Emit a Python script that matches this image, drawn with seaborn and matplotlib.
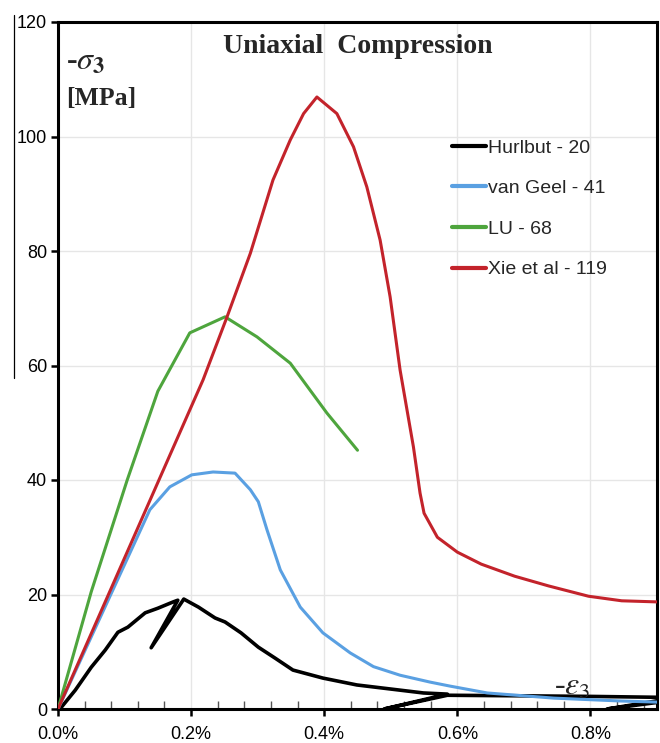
import numpy as np
import pandas as pd
import seaborn as sns
import matplotlib.pyplot as plt
from matplotlib.lines import Line2D
from matplotlib.ticker import MultipleLocator, FuncFormatter

# strain in %, stress in MPa
hurlbut_x = [0.0, 0.005, 0.026, 0.05, 0.071, 0.09, 0.105, 0.131, 0.15, 0.173, 0.18,
             0.14, 0.189, 0.211, 0.236, 0.251, 0.275, 0.301, 0.326, 0.353, 0.398,
             0.449, 0.499, 0.549, 0.585, 0.49, 0.585, 0.7, 0.8, 0.93, 0.825, 0.93]
hurlbut_y = [0.0, 0.3, 3.3, 7.3, 10.3, 13.4, 14.3, 16.8, 17.6, 18.7, 19.0,
             10.7, 19.2, 17.8, 15.9, 15.2, 13.3, 10.8, 8.9, 6.8, 5.4,
             4.2, 3.5, 2.8, 2.6, 0.0, 2.4, 2.3, 2.2, 2.0, 0.0, 1.6]

geel_x = [0.0, 0.138, 0.168, 0.201, 0.233, 0.266, 0.289, 0.301, 0.314, 0.334, 0.364,
          0.398, 0.439, 0.474, 0.514, 0.559, 0.589, 0.645, 0.745, 0.845, 0.9]
geel_y = [0.0, 34.8, 38.8, 40.9, 41.4, 41.2, 38.3, 36.2, 31.3, 24.3, 17.8,
          13.3, 9.8, 7.4, 5.9, 4.7, 4.0, 2.8, 1.9, 1.4, 1.2]

lu_x = [0.0, 0.05, 0.104, 0.15, 0.198, 0.251, 0.299, 0.349, 0.404, 0.45]
lu_y = [0.0, 20.5, 40.0, 55.5, 65.7, 68.5, 65.0, 60.4, 51.7, 45.2]

xie_x = [0.0, 0.218, 0.254, 0.289, 0.323, 0.349, 0.369, 0.389, 0.419, 0.444, 0.464,
         0.484, 0.499, 0.514, 0.534, 0.544, 0.550, 0.570, 0.600, 0.636, 0.686,
         0.737, 0.797, 0.847, 0.902]
xie_y = [0.0, 57.5, 68.5, 79.6, 92.4, 99.4, 104.0, 106.9, 104.0, 98.2, 91.2,
         81.9, 72.0, 59.2, 45.8, 37.7, 34.2, 30.0, 27.4, 25.3, 23.2,
         21.5, 19.7, 18.9, 18.7]

labels = ["Hurlbut - 20", "van Geel - 41", "LU - 68", "Xie et al - 119"]
colors = ["#000000", "#5aa0e2", "#4ea53d", "#c3232b"]

frames = []
for lab, xs, ys in zip(labels, [hurlbut_x, geel_x, lu_x, xie_x],
                       [hurlbut_y, geel_y, lu_y, xie_y]):
    frames.append(pd.DataFrame({"strain": xs, "stress": ys, "series": lab}))
df = pd.concat(frames, ignore_index=True)

sns.set_style("white")
plt.rcParams['font.family'] = ['Liberation Sans', 'DejaVu Sans']
plt.rcParams['mathtext.fontset'] = 'stix'

fig = plt.figure(figsize=(6.6, 7.43), dpi=100)
ax = fig.add_axes([58 / 660, 1 - 709 / 743, 599 / 660, 687 / 743])

widths = {"Hurlbut - 20": 2.6, "van Geel - 41": 2.2, "LU - 68": 2.2, "Xie et al - 119": 2.2}
for lab, col in zip(labels, colors):
    sub = df[df.series == lab]
    sns.lineplot(data=sub, x="strain", y="stress", sort=False, estimator=None,
                 color=col, lw=widths[lab], ax=ax, zorder=3)

ax.set_xlim(0, 0.9)
ax.set_ylim(0, 120)
ax.xaxis.set_major_locator(MultipleLocator(0.2))
ax.xaxis.set_minor_locator(MultipleLocator(0.04))
ax.yaxis.set_major_locator(MultipleLocator(20))
ax.xaxis.set_major_formatter(FuncFormatter(lambda v, p: f"{v:.1f}%"))
ax.grid(True, which="major", color="#e6e6e6", lw=1.0, zorder=0)
ax.set_axisbelow(True)
for s in ax.spines.values():
    s.set_color("black")
    s.set_linewidth(2.2)
ax.tick_params(axis="both", which="major", direction="out", length=5, width=1.8,
               labelsize=13, colors="black", pad=3, left=True, bottom=True)
ax.tick_params(axis="x", which="major", pad=7)
ax.tick_params(axis="x", which="minor", direction="in", length=6, width=1.0,
               color="#555555", bottom=True)
ax.set_xlabel("")
ax.set_ylabel("")

handles = [Line2D([], [], color=c, lw=3) for c in colors]
ax.legend(handles, labels, loc="upper left", bbox_to_anchor=(0.628, 0.855),
          frameon=False, fontsize=14, handlelength=1.75, handletextpad=0.1,
          labelspacing=1.18)

ax.text(0.5, 0.982, "Uniaxial  Compression", transform=ax.transAxes, ha="center",
        va="top", fontsize=20, fontweight="bold", family="Liberation Serif")
ax.text(0.013, 0.962, r"-$\sigma_{\mathbf{3}}$", transform=ax.transAxes, ha="left",
        va="top", fontsize=23, fontweight="bold", family="Liberation Serif")
ax.text(0.013, 0.905, "[MPa]", transform=ax.transAxes, ha="left", va="top",
        fontsize=18.5, fontweight="bold", family="Liberation Serif")
ax.text(0.828, 0.01, r"-$\varepsilon_3$", transform=ax.transAxes, ha="left",
        va="bottom", fontsize=23, family="Liberation Serif")

fig.add_artist(Line2D([14 / 660, 14 / 660], [1 - 15 / 743, 1 - 378 / 743],
                      color="black", lw=0.9))

fig.savefig("out.png", dpi=100)
